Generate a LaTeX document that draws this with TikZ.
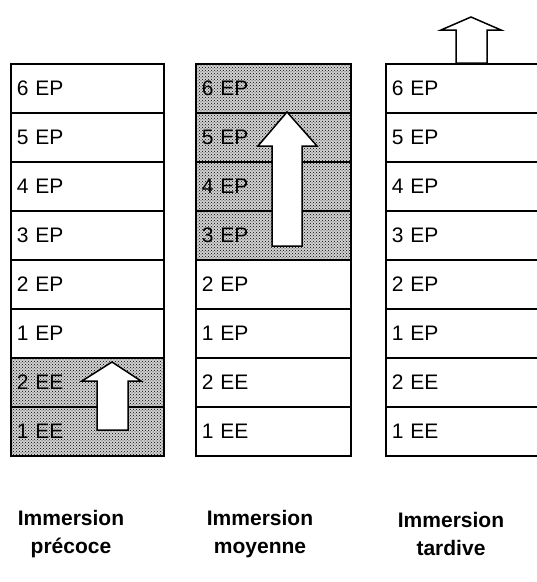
\documentclass[tikz,border=0pt]{standalone}
\usepackage{fontspec}
\setmainfont{Liberation Sans}
\usetikzlibrary{patterns}

\tikzset{
  grade/.style={draw, line width=1.5pt, anchor=north west, minimum height=49pt,
    inner xsep=6pt, inner ysep=0pt, align=left, font=\fontsize{21}{24}\selectfont},
  dots/.style={pattern=crosshatch dots, pattern color=black, preaction={fill=gray!35}},
  lift/.style={draw, fill=white, line width=1.5pt, line join=miter},
  caption/.style={align=center, font=\fontsize{21}{28}\selectfont\bfseries}
}

\begin{document}
\begin{tikzpicture}[x=1pt, y=-1pt]
    \useasboundingbox (0,0) rectangle (537,582);
    \clip (0,0) rectangle (537,582);

    % early immersion
    \foreach \lab [count=\i] in {6 EP,5 EP,4 EP,3 EP,2 EP,1 EP,2 EE,1 EE} {
        \ifnum\i>6
            \node[grade, dots, text width=141pt] (pre\i) at (10,{63+(\i-1)*49}) {\lab};
        \else
            \node[grade, text width=141pt] (pre\i) at (10,{63+(\i-1)*49}) {\lab};
        \fi
    }
    \draw[lift] (97,430) -- (97,381) -- (82,381) -- (112,362) -- (141,381) -- (128,381) -- (128,430) -- cycle;

    % middle immersion
    \foreach \lab [count=\i] in {6 EP,5 EP,4 EP,3 EP,2 EP,1 EP,2 EE,1 EE} {
        \ifnum\i<5
            \node[grade, dots, text width=143pt] (mid\i) at (195,{63+(\i-1)*49}) {\lab};
        \else
            \node[grade, text width=143pt] (mid\i) at (195,{63+(\i-1)*49}) {\lab};
        \fi
    }
    \draw[lift] (272,246) -- (272,146) -- (258,146) -- (287,112) -- (317,146) -- (302,146) -- (302,246) -- cycle;

    % late immersion
    \foreach \lab [count=\i] in {6 EP,5 EP,4 EP,3 EP,2 EP,1 EP,2 EE,1 EE} {
        \node[grade, text width=170pt] (late\i) at (385,{63+(\i-1)*49}) {\lab};
    }
    \draw[lift] (456,63) -- (456,30) -- (441,30) -- (471,17) -- (501,30) -- (487,30) -- (487,63) -- cycle;

    \node[caption] (capPre) at (71,534) {Immersion\\précoce};
    \node[caption] (capMid) at (260,534) {Immersion\\moyenne};
    \node[caption] (capLate) at (451,534) {Immersion\\tardive};
\end{tikzpicture}
\end{document}
